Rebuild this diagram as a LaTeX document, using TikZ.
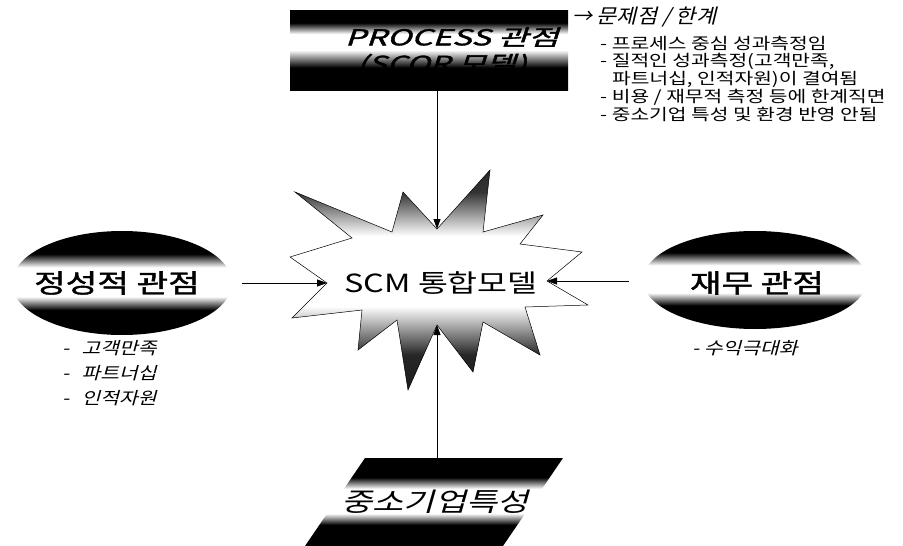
\documentclass[tikz,border=0pt]{standalone}
\usepackage{fontspec}
\usetikzlibrary{arrows.meta,shapes.geometric}
\newfontfamily\kr{Noto Sans CJK KR}
\newfontfamily\kri[FakeSlant=0.22]{Noto Sans CJK KR}
\newfontfamily\krbi[FakeSlant=0.22,FakeBold=1.5]{Noto Sans CJK KR}
\newfontfamily\krb[FakeBold=1.5]{Noto Sans CJK KR}
\newcommand{\sx}[2]{\scalebox{#1}[1]{#2}}
\pgfdeclareverticalshading{band}{100bp}{color(0bp)=(black); color(37bp)=(black); color(43.5bp)=(white); color(57.5bp)=(white); color(64bp)=(black); color(100bp)=(black)}
\pgfdeclareverticalshading{boxband}{100bp}{color(0bp)=(black); color(39bp)=(black); color(50bp)=(white); color(60bp)=(white); color(67bp)=(black); color(100bp)=(black)}
\pgfdeclareverticalshading{starband}{100bp}{color(0bp)=(black); color(33bp)=(black!85); color(44bp)=(white); color(60bp)=(white); color(70bp)=(black!80); color(100bp)=(black)}
\tikzset{
  conn/.style={line width=0.8pt,-{Triangle[length=10pt,width=7pt]}},
  lst/.style={anchor=west,inner sep=0pt,font=\kr\fontsize{16}{18}\selectfont},
  ilst/.style={anchor=west,inner sep=0pt,font=\kri\fontsize{17}{19}\selectfont},
}
\begin{document}
\begin{tikzpicture}[x=1pt,y=-1pt]
\useasboundingbox (0,0) rectangle (903,546);
% top box
\node (proc) [rectangle,minimum width=278pt,minimum height=80pt,inner sep=0pt,shading=boxband] at (429,50) {};
\node (procA) [inner sep=0pt,font=\krbi\fontsize{22}{24}\selectfont] at (452,37) {\sx{1.5}{PROCESS 관점}};
\node (procB) [inner sep=0pt,font=\krbi\fontsize{22}{24}\selectfont] at (442,65) {\sx{1.45}{(SCOR 모델)}};
% problem list
\node (prob) [ilst,font=\kri\fontsize{20}{22}\selectfont] at (572,17) {→ \sx{1.1}{문제점 / 한계}};
\node (p1) [lst] at (600,43) {\sx{1.27}{- 프로세스 중심 성과측정임}};
\node (p2) [lst] at (600,61) {\sx{1.27}{- 질적인 성과측정(고객만족,}};
\node (p3) [lst] at (612,79) {\sx{1.27}{파트너십, 인적자원)이 결여됨}};
\node (p4) [lst] at (600,97) {\sx{1.27}{- 비용 / 재무적 측정 등에 한계직면}};
\node (p5) [lst] at (600,114) {\sx{1.27}{- 중소기업 특성 및 환경 반영 안됨}};
% starburst
\coordinate (ntop) at (437,229);
\coordinate (nbot) at (437,325);
\coordinate (nleft) at (327,283);
\coordinate (nright) at (547,281);
\draw[line width=0.5pt,shading=starband]
  (295,192) -- (392,232) -- (403,192) -- (ntop) -- (490,170) -- (483,232)
  -- (543,215) -- (520,244) -- (582,252) -- (nright) -- (588,305) -- (525,307)
  -- (540,355) -- (483,322) -- (473,372) -- (nbot) -- (408,390) -- (397,320)
  -- (358,350) -- (362,310) -- (292,318) -- (nleft) -- (290,257) -- (352,238) -- cycle;
\node (scm) [inner sep=0pt,font=\kr\fontsize{25}{27}\selectfont] at (441,283) {\sx{1.3}{SCM 통합모델}};
% left ellipse
\node (lq) [ellipse,minimum width=220pt,minimum height=104pt,inner sep=0pt,shading=band] at (122,283) {};
\node (lqt) [inner sep=0pt,font=\krb\fontsize{26}{28}\selectfont] at (117,283) {\sx{1.32}{정성적 관점}};
\node (l1) [ilst] at (62,348) {\sx{1.2}{-\hspace{0.6em}고객만족}};
\node (l2) [ilst] at (62,373) {\sx{1.2}{-\hspace{0.6em}파트너십}};
\node (l3) [ilst] at (62,398) {\sx{1.2}{-\hspace{0.6em}인적자원}};
% right ellipse
\node (rq) [ellipse,minimum width=224pt,minimum height=98pt,inner sep=0pt,shading=band] at (755,280) {};
\node (rqt) [inner sep=0pt,font=\krb\fontsize{26}{28}\selectfont] at (757,283) {\sx{1.32}{재무 관점}};
\node (r1) [ilst] at (692,348) {\sx{1.2}{- 수익극대화}};
% bottom parallelogram
\path[shading=band] (365,458) -- (563,458) -- (503,546) -- (305,546) -- cycle;
\coordinate (smetop) at (437,458);
\node (sme) [inner sep=0pt,font=\kri\fontsize{26}{28}\selectfont] at (435,502) {\sx{1.3}{중소기업특성}};
% connectors
\draw[conn] (proc.south -| ntop) -- (ntop);
\draw[conn] (smetop) -- (nbot);
\draw[conn,shorten <=10pt] (lq.east) -- (nleft);
\draw[conn,shorten <=14pt] (rq.west |- nright) -- (nright);
\end{tikzpicture}
\end{document}
